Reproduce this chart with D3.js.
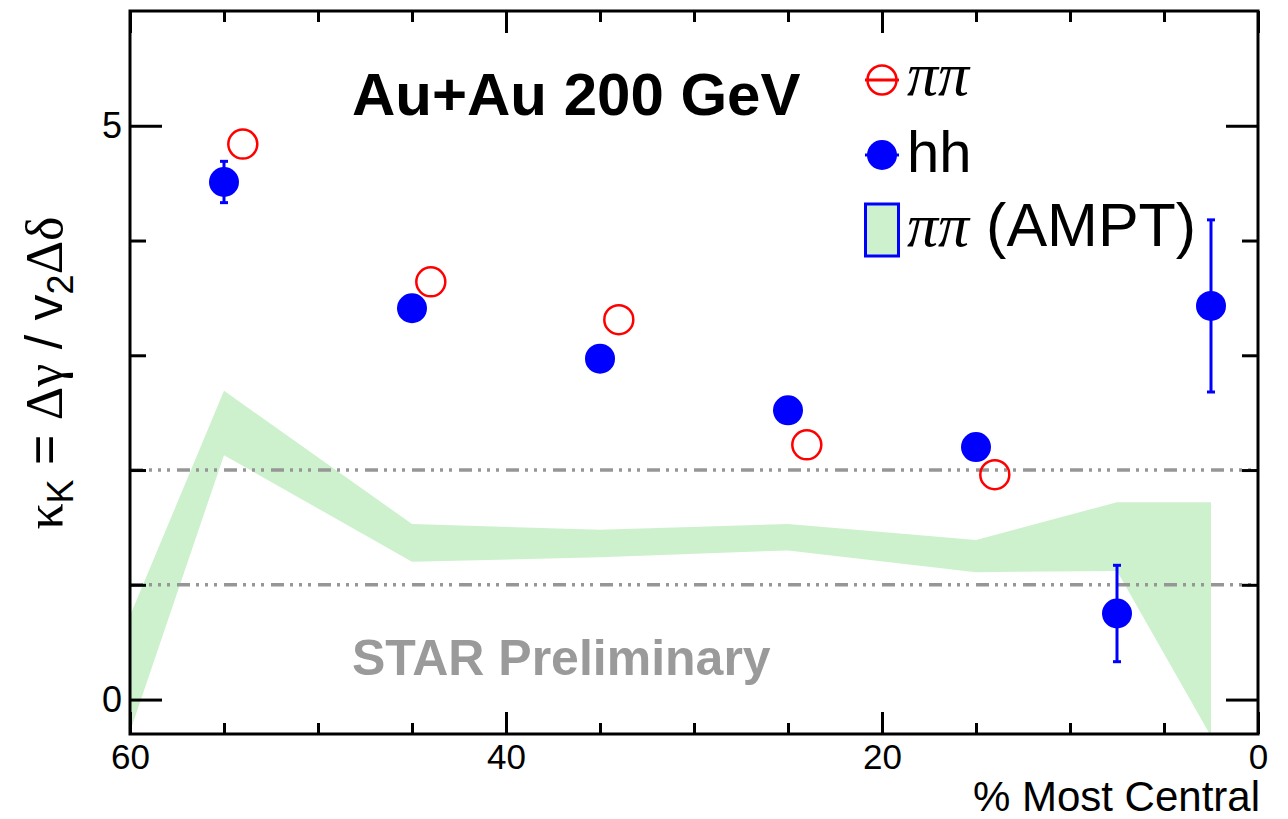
<!DOCTYPE html>
<html>
<head>
<meta charset="utf-8">
<script src="https://cdn.jsdelivr.net/npm/d3@7"></script>
<style>
  html, body { margin: 0; padding: 0; background: #fff; }
  svg { display: block; }
  text { font-family: "Liberation Sans", Arial, Helvetica, sans-serif; }
  .greek { font-family: "Liberation Serif", "Times New Roman", serif; }
</style>
</head>
<body>
<svg id="chart" width="1288" height="819"></svg>
<script>
// Centrality bins (% most central) and kappa values
const hhCentrality = [55, 45, 35, 25, 15, 7.5, 2.5];
const hhKappa      = [4.51, 3.41, 2.97, 2.52, 2.20, 0.75, 3.43];
const hhError      = [0.18, 0.08, 0.07, 0.07, 0.07, 0.42, 0.75];

const pipiCentrality = [54, 44, 34, 24, 14];
const pipiKappa      = [4.84, 3.64, 3.31, 2.22, 1.96];

// AMPT band (pi-pi), lower and upper edges
const amptCentrality = [60, 55, 45, 35, 25, 15, 7.5, 2.5];
const amptLow        = [-0.28, 2.13, 1.20, 1.24, 1.30, 1.11, 1.12, -0.32];
const amptHigh       = [0.73, 2.69, 1.53, 1.48, 1.53, 1.39, 1.72, 1.72];

// Reference lines
const refLines = [1, 2];

// Axis ticks
const xMajor = [60, 40, 20, 0];
const xMinor = [55, 50, 45, 35, 30, 25, 15, 10, 5];
const yMajor = [0, 5];
const yMinor = [1, 2, 3, 4];

const legendLabels = ["ππ", "hh", "ππ (AMPT)"];

const frame = { left: 130, right: 1258, top: 11, bottom: 734 };

const svg = d3.select("#chart");
const x = d3.scaleLinear().domain([60, 0]).range([frame.left, frame.right]);
const y = d3.scaleLinear().domain([-0.3, 6]).range([frame.bottom, frame.top]);

svg.append("defs").append("clipPath").attr("id", "plotclip")
  .append("rect")
  .attr("x", frame.left).attr("y", frame.top)
  .attr("width", frame.right - frame.left).attr("height", frame.bottom - frame.top);

const plot = svg.append("g").attr("clip-path", "url(#plotclip)");

// AMPT band
const band = amptCentrality.map((c, i) => ({ c, lo: amptLow[i], hi: amptHigh[i] }));
plot.append("path")
  .datum(band)
  .attr("fill", "#cdf1cd")
  .attr("d", d3.area().x(d => x(d.c)).y0(d => y(d.lo)).y1(d => y(d.hi)));

// Axis ticks (inside the frame, on all four sides)
function tickAxis(axis, tx, ty, values, size) {
  const g = svg.append("g").attr("transform", `translate(${tx},${ty})`)
    .call(axis.tickValues(values).tickSize(size).tickFormat(""));
  g.select(".domain").remove();
  g.selectAll(".tick line").attr("stroke", "#000").attr("stroke-width", 3);
  return g;
}
tickAxis(d3.axisRight(y), frame.left, 0, yMajor, 32);
tickAxis(d3.axisRight(y), frame.left, 0, yMinor, 16);
tickAxis(d3.axisLeft(y), frame.right, 0, yMajor, 32);
tickAxis(d3.axisLeft(y), frame.right, 0, yMinor, 16);
tickAxis(d3.axisTop(x), 0, frame.bottom, xMajor, 22);
tickAxis(d3.axisTop(x), 0, frame.bottom, xMinor, 11);
tickAxis(d3.axisBottom(x), 0, frame.top, xMajor, 22);
tickAxis(d3.axisBottom(x), 0, frame.top, xMinor, 11);

// Tick labels
const yLab = svg.append("g").attr("transform", `translate(${frame.left - 8},0)`)
  .call(d3.axisLeft(y).tickValues(yMajor).tickSize(0).tickPadding(0).tickFormat(d3.format("d")));
yLab.select(".domain").remove();
yLab.selectAll("text").attr("font-size", 36).attr("fill", "#000")
  .style("font-family", "'Liberation Sans', Arial, sans-serif");

const xLab = svg.append("g").attr("transform", `translate(0,${frame.bottom})`)
  .call(d3.axisBottom(x).tickValues(xMajor).tickSize(0).tickPadding(10).tickFormat(d3.format("d")));
xLab.select(".domain").remove();
xLab.selectAll("text").attr("font-size", 35).attr("fill", "#000")
  .style("font-family", "'Liberation Sans', Arial, sans-serif");

// Dash-dot-dot-dot reference lines
plot.selectAll("line.ref").data(refLines).join("line")
  .attr("class", "ref")
  .attr("x1", frame.left).attr("x2", frame.right)
  .attr("y1", d => y(d)).attr("y2", d => y(d))
  .attr("stroke", "#969696")
  .attr("stroke-width", 3.5)
  .attr("stroke-dasharray", "13,6,3,6,3,6,3,7");

// hh error bars
const hh = hhCentrality.map((c, i) => ({ c, k: hhKappa[i], e: hhError[i] }));
const eb = plot.append("g").attr("stroke", "#0000ff").attr("stroke-width", 3);
eb.selectAll("line.bar").data(hh).join("line").attr("class", "bar")
  .attr("x1", d => x(d.c)).attr("x2", d => x(d.c))
  .attr("y1", d => y(d.k - d.e)).attr("y2", d => y(d.k + d.e));
eb.selectAll("line.capHi").data(hh).join("line").attr("class", "capHi")
  .attr("x1", d => x(d.c) - 4).attr("x2", d => x(d.c) + 4)
  .attr("y1", d => y(d.k + d.e)).attr("y2", d => y(d.k + d.e));
eb.selectAll("line.capLo").data(hh).join("line").attr("class", "capLo")
  .attr("x1", d => x(d.c) - 4).attr("x2", d => x(d.c) + 4)
  .attr("y1", d => y(d.k - d.e)).attr("y2", d => y(d.k - d.e));

// hh markers
plot.selectAll("circle.hh").data(hh).join("circle")
  .attr("class", "hh")
  .attr("cx", d => x(d.c)).attr("cy", d => y(d.k))
  .attr("r", 15).attr("fill", "#0000ff");

// pi-pi markers
const pipi = pipiCentrality.map((c, i) => ({ c, k: pipiKappa[i] }));
plot.selectAll("circle.pipi").data(pipi).join("circle")
  .attr("class", "pipi")
  .attr("cx", d => x(d.c)).attr("cy", d => y(d.k))
  .attr("r", 14.5).attr("fill", "none")
  .attr("stroke", "#ff0000").attr("stroke-width", 2.5);

// Frame
svg.append("rect")
  .attr("x", frame.left).attr("y", frame.top)
  .attr("width", frame.right - frame.left).attr("height", frame.bottom - frame.top)
  .attr("fill", "none").attr("stroke", "#000").attr("stroke-width", 3);

// Title and preliminary tag
svg.append("text").attr("x", 352).attr("y", 115)
  .attr("font-size", 60).attr("font-weight", "bold").attr("fill", "#000")
  .text("Au+Au 200 GeV");

svg.append("text").attr("x", 352).attr("y", 675)
  .attr("font-size", 50).attr("font-weight", "bold").attr("fill", "#9a9a9a")
  .text("STAR Preliminary");

// X-axis title
svg.append("text").attr("x", 1260).attr("y", 811)
  .attr("text-anchor", "end").attr("font-size", 42).attr("fill", "#000")
  .text("% Most Central");

// Y-axis title: kappa_K = Δγ / v_2 Δδ
const yt = svg.append("text")
  .attr("transform", "translate(62,373) rotate(-90)")
  .attr("text-anchor", "middle").attr("font-size", 52).attr("fill", "#000");
yt.append("tspan").attr("class", "greek").text("κ");
yt.append("tspan").attr("font-size", 36).attr("dy", 11).text("K");
yt.append("tspan").attr("dy", -11).text(" = ");
yt.append("tspan").attr("class", "greek").text("Δγ");
yt.append("tspan").text(" / v");
yt.append("tspan").attr("font-size", 36).attr("dy", 11).text("2");
yt.append("tspan").attr("class", "greek").attr("dy", -11).text("Δδ");

// Legend
const legX = 882, legRows = [80, 155, 230], legTextX = 907;
const leg = svg.append("g");
// row 1: open red circle with horizontal bar
leg.append("line").attr("x1", legX - 17).attr("x2", legX + 17)
  .attr("y1", legRows[0]).attr("y2", legRows[0])
  .attr("stroke", "#ff0000").attr("stroke-width", 3);
leg.append("circle").attr("cx", legX).attr("cy", legRows[0]).attr("r", 14.5)
  .attr("fill", "none").attr("stroke", "#ff0000").attr("stroke-width", 2.5);
// row 2: filled blue circle with horizontal bar
leg.append("line").attr("x1", legX - 17).attr("x2", legX + 17)
  .attr("y1", legRows[1]).attr("y2", legRows[1])
  .attr("stroke", "#0000ff").attr("stroke-width", 3);
leg.append("circle").attr("cx", legX).attr("cy", legRows[1]).attr("r", 15)
  .attr("fill", "#0000ff");
// row 3: band swatch
leg.append("rect").attr("x", legX - 16.5).attr("y", legRows[2] - 26)
  .attr("width", 33).attr("height", 52)
  .attr("fill", "#cdf1cd").attr("stroke", "#0000ff").attr("stroke-width", 3);

const t1 = leg.append("text").attr("x", legTextX).attr("y", legRows[0] + 15)
  .attr("font-size", 62).attr("fill", "#000");
t1.append("tspan").attr("class", "greek").attr("font-style", "italic").text(legendLabels[0]);

leg.append("text").attr("x", legTextX).attr("y", legRows[1] + 17)
  .attr("font-size", 58).attr("fill", "#000").text(legendLabels[1]);

const t3 = leg.append("text").attr("x", legTextX).attr("y", legRows[2] + 16)
  .attr("font-size", 61).attr("fill", "#000");
t3.append("tspan").attr("class", "greek").attr("font-style", "italic").attr("font-size", 62)
  .text(legendLabels[2].slice(0, 2));
t3.append("tspan").text(legendLabels[2].slice(2));
</script>
</body>
</html>
